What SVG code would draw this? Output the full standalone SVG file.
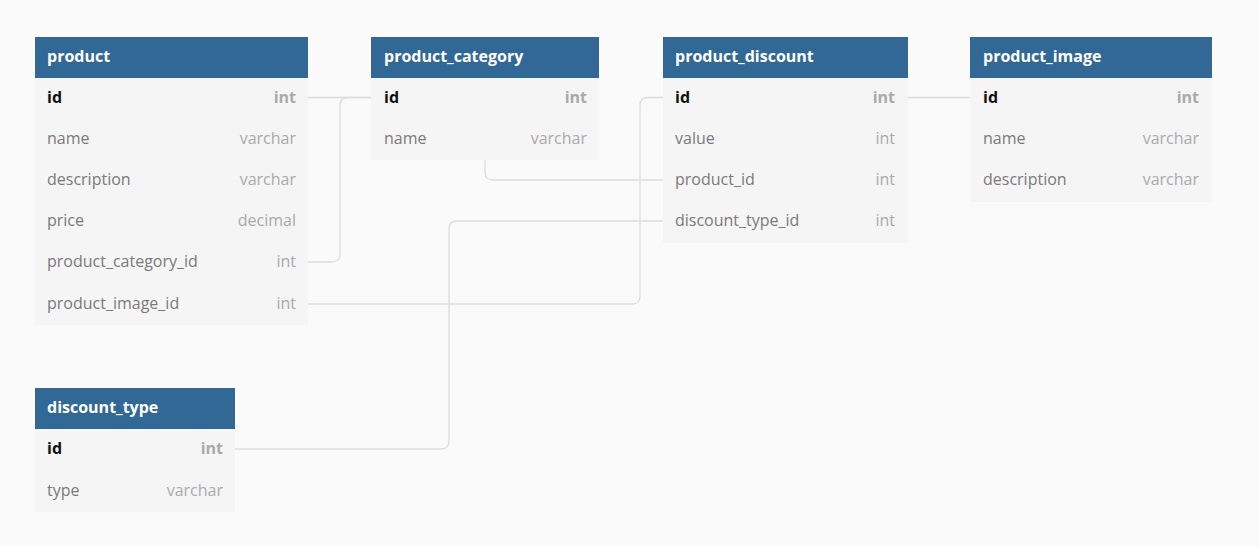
<svg xmlns="http://www.w3.org/2000/svg" width="1259" height="546" viewBox="0 0 1259 546">
<style>
.bg{fill:#fafafa}
.hd{fill:#316896}
.bd{fill:#f5f5f5}
.ht{font-family:"Open Sans",sans-serif;font-size:16px;font-weight:700;fill:#ffffff}
.fn{font-family:"Open Sans",sans-serif;font-size:16px;fill:#7a7a7a}
.ft{font-family:"Open Sans",sans-serif;font-size:16px;fill:#aaaaaa;text-anchor:end}
.pk{font-weight:700;fill:#111111}
.pkt{font-weight:700;fill:#aaaaaa}
.cn{fill:none;stroke:#dddddd;stroke-width:1.3}
</style>
<rect class="bg" x="0" y="0" width="1259" height="546"/>
<g id="connectors">
<path class="cn" d="M308,97.5 H477 Q485,97.5 485,105.5 V172 Q485,180 493,180 H663"/>
<path class="cn" d="M308,262 H332 Q340,262 340,254 V105.5 Q340,97.5 348,97.5 H371"/>
<path class="cn" d="M308,304 H632 Q640,304 640,296 V105.5 Q640,97.5 648,97.5 H970"/>
<path class="cn" d="M235,449 H441 Q449,449 449,441 V229 Q449,221 457,221 H663"/>
</g>
<g id="product">
<rect class="hd" x="35" y="37" width="273" height="41"/>
<rect class="bd" x="35" y="78" width="273" height="247"/>
<text class="ht" x="47" y="62">product</text>
<text class="fn pk" x="47" y="103">id</text><text class="ft pkt" x="296" y="103">int</text>
<text class="fn" x="47" y="144">name</text><text class="ft" x="296" y="144">varchar</text>
<text class="fn" x="47" y="185">description</text><text class="ft" x="296" y="185">varchar</text>
<text class="fn" x="47" y="226">price</text><text class="ft" x="296" y="226">decimal</text>
<text class="fn" x="47" y="267">product_category_id</text><text class="ft" x="296" y="267">int</text>
<text class="fn" x="47" y="309">product_image_id</text><text class="ft" x="296" y="309">int</text>
</g>
<g id="product_category">
<rect class="hd" x="371" y="37" width="228" height="41"/>
<rect class="bd" x="371" y="78" width="228" height="82"/>
<text class="ht" x="384" y="62">product_category</text>
<text class="fn pk" x="384" y="103">id</text><text class="ft pkt" x="587" y="103">int</text>
<text class="fn" x="384" y="144">name</text><text class="ft" x="587" y="144">varchar</text>
</g>
<g id="product_discount">
<rect class="hd" x="663" y="37" width="245" height="41"/>
<rect class="bd" x="663" y="78" width="245" height="165"/>
<text class="ht" x="675" y="62">product_discount</text>
<text class="fn pk" x="675" y="103">id</text><text class="ft pkt" x="895" y="103">int</text>
<text class="fn" x="675" y="144">value</text><text class="ft" x="895" y="144">int</text>
<text class="fn" x="675" y="185">product_id</text><text class="ft" x="895" y="185">int</text>
<text class="fn" x="675" y="226">discount_type_id</text><text class="ft" x="895" y="226">int</text>
</g>
<g id="product_image">
<rect class="hd" x="970" y="37" width="242" height="41"/>
<rect class="bd" x="970" y="78" width="242" height="124"/>
<text class="ht" x="983" y="62">product_image</text>
<text class="fn pk" x="983" y="103">id</text><text class="ft pkt" x="1199" y="103">int</text>
<text class="fn" x="983" y="144">name</text><text class="ft" x="1199" y="144">varchar</text>
<text class="fn" x="983" y="185">description</text><text class="ft" x="1199" y="185">varchar</text>
</g>
<g id="discount_type">
<rect class="hd" x="35" y="388" width="200" height="41"/>
<rect class="bd" x="35" y="429" width="200" height="83"/>
<text class="ht" x="47" y="413">discount_type</text>
<text class="fn pk" x="47" y="454">id</text><text class="ft pkt" x="223" y="454">int</text>
<text class="fn" x="47" y="496">type</text><text class="ft" x="223" y="496">varchar</text>
</g>
</svg>
